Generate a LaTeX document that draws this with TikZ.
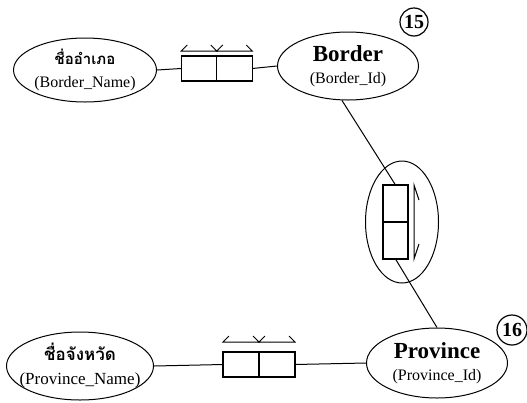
\documentclass[tikz,border=0pt]{standalone}
\usepackage{fontspec}
\setmainfont{Liberation Serif}
\newfontfamily\thaifont[Script=Thai]{Loma}
\usetikzlibrary{positioning,shapes.geometric}

\begin{document}
\begin{tikzpicture}[x=1pt,y=-1pt,line width=1pt,every node/.style={align=center},
    attr/.style={draw,ellipse,inner xsep=-20pt,inner ysep=-8pt,font=\fontsize{16}{20}\selectfont},
    cell/.style={draw,line width=1.2pt,inner sep=0pt,outer sep=0pt},
    num/.style={draw,circle,line width=1.2pt,minimum size=28pt,inner sep=0pt,font=\fontsize{20}{22}\selectfont\bfseries}]
    \useasboundingbox (0,0) rectangle (527,402);
    % border
    \node[attr,minimum width=143pt,minimum height=64pt] (bname) at (85,70) {\thaifont\bfseries\fontsize{15}{20}\selectfont ชื่ออำเภอ\\[3pt] \rmfamily\mdseries\fontsize{16}{20}\selectfont (Border\_Name)};
    \node[attr,minimum width=141pt,minimum height=68pt] (border) at (348,66) {\fontsize{23}{24}\selectfont\bfseries Border\\[2pt] \fontsize{16}{20}\selectfont\mdseries (Border\_Id)};
    \node[num] (n15) at (414,22) {15};
    \node[cell,minimum width=35.5pt,minimum height=25pt] (tb1) at (199,68.5) {};
    \node[cell,minimum width=35.5pt,minimum height=25pt,right=0pt of tb1] (tb2) {};
    \draw ([yshift=5pt]tb1.north west) ++(6pt,6pt) -- ++(-6pt,-6pt) -- ([yshift=5pt]tb1.north east) -- ++(-6pt,6pt);
    \draw ([yshift=5pt]tb2.north west) ++(6pt,6pt) -- ++(-6pt,-6pt) -- ([yshift=5pt]tb2.north east) -- ++(-6pt,6pt);
    \draw (bname.east) -- (tb1.west);
    \draw (tb2.east) -- (border.west);
    % relation
    \node[draw,ellipse,minimum width=73pt,minimum height=122pt] (rel) at (402,222) {};
    \node[cell,minimum width=25pt,minimum height=37pt] (rb1) at (395.5,203.5) {};
    \node[cell,minimum width=25pt,minimum height=37pt,below=0pt of rb1] (rb2) {};
    \draw ([xshift=6pt]rb1.north east) ++(5pt,-15pt) -- ++(-5pt,15pt) -- ([xshift=6pt]rb2.south east) -- ++(5pt,15pt);
    % province
    \node[attr,minimum width=147pt,minimum height=68pt] (pname) at (80,366) {\thaifont\bfseries\fontsize{17}{22}\selectfont ชื่อจังหวัด\\[4pt] \rmfamily\mdseries\fontsize{17}{20}\selectfont (Province\_Name)};
    \node[attr,minimum width=141pt,minimum height=70pt] (province) at (437,363) {\fontsize{23}{24}\selectfont\bfseries Province\\[2pt] \fontsize{16}{20}\selectfont\mdseries (Province\_Id)};
    \node[num,minimum size=30pt] (n16) at (512,330) {16};
    \node[cell,minimum width=36pt,minimum height=25pt] (pb1) at (241,364.5) {};
    \node[cell,minimum width=36pt,minimum height=25pt,right=0pt of pb1] (pb2) {};
    \draw ([yshift=10pt]pb1.north west) ++(6pt,6pt) -- ++(-6pt,-6pt) -- ([yshift=10pt]pb1.north east) -- ++(-6pt,6pt);
    \draw ([yshift=10pt]pb2.north west) ++(6pt,6pt) -- ++(-6pt,-6pt) -- ([yshift=10pt]pb2.north east) -- ++(-6pt,6pt);
    \draw (pname.east) -- (pb1.west);
    \draw (pb2.east) -- (province.west);
    \draw (border.260) -- (rb1.north);
    \draw (rb2.south) -- (province.north);
\end{tikzpicture}
\end{document}
